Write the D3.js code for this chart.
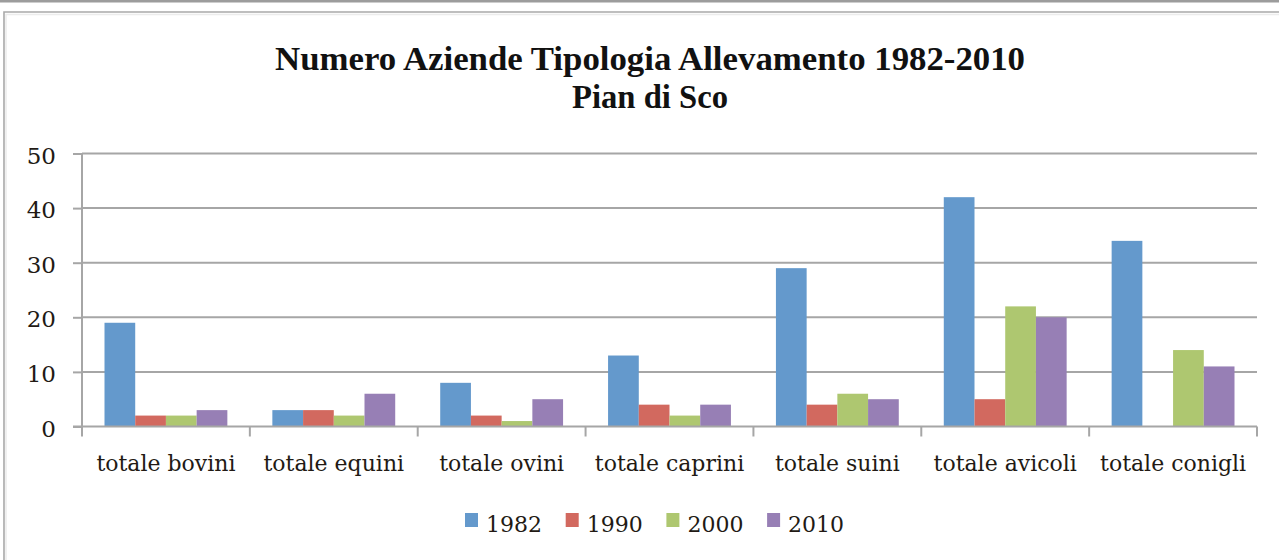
<!DOCTYPE html>
<html>
<head>
<meta charset="utf-8">
<script src="https://cdn.jsdelivr.net/npm/d3@7"></script>
<style>
  html, body { margin: 0; padding: 0; background: #fff; overflow: hidden; }
  svg { display: block; }
</style>
</head>
<body>
<svg id="chart" width="1279" height="560"></svg>
<script>
// Number of farms by livestock type, Pian di Sco, census years 1982–2010
const categories = ["totale bovini", "totale equini", "totale ovini", "totale caprini",
                    "totale suini", "totale avicoli", "totale conigli"];
const years = ["1982", "1990", "2000", "2010"];
const values1982 = [19, 3, 8, 13, 29, 42, 34];
const values1990 = [2, 3, 2, 4, 4, 5, 0];
const values2000 = [2, 2, 1, 2, 6, 22, 14];
const values2010 = [3, 6, 5, 4, 5, 20, 11];
const yTicks = [0, 10, 20, 30, 40, 50];
const titleLines = ["Numero Aziende Tipologia Allevamento 1982-2010", "Pian di Sco"];
const seriesColors = ["#6499cc", "#d2695f", "#aec770", "#977fb5"];

const series = [values1982, values1990, values2000, values2010];

const svg = d3.select("#chart");
const plot = { left: 82, right: 1257, top: 153.5, bottom: 426.5 };
const gridColor = "#a6a6a6";
const textColor = "#221a14";
const labelFont = "'DejaVu Serif', serif";

// page rule above the chart frame
svg.append("rect").attr("x", 0).attr("y", 0).attr("width", 1279).attr("height", 2.5)
  .attr("fill", "#9c9c9c");

// chart frame (runs off the right and bottom edges)
svg.append("path")
  .attr("d", "M4,600 L4,12 L1300,12")
  .attr("fill", "none").attr("stroke", "#a9a9a9").attr("stroke-width", 1.6);
svg.append("path")
  .attr("d", "M6,600 L6,14.5 L1300,14.5")
  .attr("fill", "none").attr("stroke", "#ececec").attr("stroke-width", 1.5);

// title
const title = svg.append("g").attr("font-family", "'Liberation Serif', serif")
  .attr("font-weight", "bold").attr("fill", "#111");
title.append("text").attr("x", 650).attr("y", 70).attr("text-anchor", "middle")
  .attr("font-size", 33).attr("textLength", 750).attr("lengthAdjust", "spacingAndGlyphs")
  .text(titleLines[0]);
title.append("text").attr("x", 650).attr("y", 108).attr("text-anchor", "middle")
  .attr("font-size", 33).attr("textLength", 156).attr("lengthAdjust", "spacingAndGlyphs")
  .text(titleLines[1]);

// scales
const y = d3.scaleLinear().domain([0, 50]).range([plot.bottom, plot.top]);
const x0 = d3.scaleBand().domain(categories).range([plot.left, plot.right]);
const groupPad = 22.5;
const x1 = d3.scaleBand().domain(years)
  .range([groupPad, x0.bandwidth() - groupPad]);

// horizontal gridlines
svg.append("g").selectAll("line").data(yTicks.filter(d => d > 0)).join("line")
  .attr("x1", plot.left).attr("x2", plot.right)
  .attr("y1", d => y(d)).attr("y2", d => y(d))
  .attr("stroke", gridColor).attr("stroke-width", 2);

// y axis
const yAxis = svg.append("g").attr("transform", `translate(${plot.left},0)`)
  .call(d3.axisLeft(y).tickValues(yTicks).tickSize(9).tickPadding(17).tickSizeOuter(0));
yAxis.select(".domain").attr("stroke", gridColor).attr("stroke-width", 2)
  .attr("d", `M0,${plot.top}V${plot.bottom + 9}`);
yAxis.selectAll(".tick line").attr("stroke", gridColor).attr("stroke-width", 2);
yAxis.selectAll(".tick text").attr("font-family", labelFont).attr("font-size", 23)
  .attr("fill", textColor).attr("dy", "0.42em");

// bars
const groups = svg.append("g").selectAll("g").data(categories).join("g")
  .attr("transform", d => `translate(${x0(d)},0)`);
groups.selectAll("rect")
  .data((c, i) => years.map((yr, k) => ({ yr, k, v: series[k][i] })))
  .join("rect")
  .attr("x", d => x1(d.yr))
  .attr("width", x1.bandwidth())
  .attr("y", d => y(d.v))
  .attr("height", d => y(0) - y(d.v))
  .attr("fill", d => seriesColors[d.k]);

// x axis
const xAxis = svg.append("g").attr("transform", `translate(0,${plot.bottom})`)
  .call(d3.axisBottom(x0).tickSize(0).tickPadding(29));
xAxis.select(".domain").attr("stroke", gridColor).attr("stroke-width", 2)
  .attr("d", `M${plot.left - 9},0H${plot.right}`);
xAxis.selectAll(".tick text").attr("font-family", labelFont).attr("font-size", 22)
  .attr("fill", textColor);
// category separators below the axis
xAxis.append("g").selectAll("line")
  .data(categories.map(c => x0(c)).concat([plot.right]))
  .join("line")
  .attr("x1", d => d).attr("x2", d => d).attr("y1", 0).attr("y2", 10)
  .attr("stroke", gridColor).attr("stroke-width", 2);

// legend
const legend = svg.append("g").attr("transform", "translate(465,0)");
const items = legend.selectAll("g").data(years).join("g")
  .attr("transform", (d, i) => `translate(${i * 100.7},0)`);
items.append("rect").attr("x", 0).attr("y", 513).attr("width", 13).attr("height", 14)
  .attr("fill", (d, i) => seriesColors[i]);
items.append("text").attr("x", 21).attr("y", 532)
  .attr("font-family", labelFont).attr("font-size", 22).attr("fill", textColor)
  .text(d => d);
</script>
</body>
</html>
